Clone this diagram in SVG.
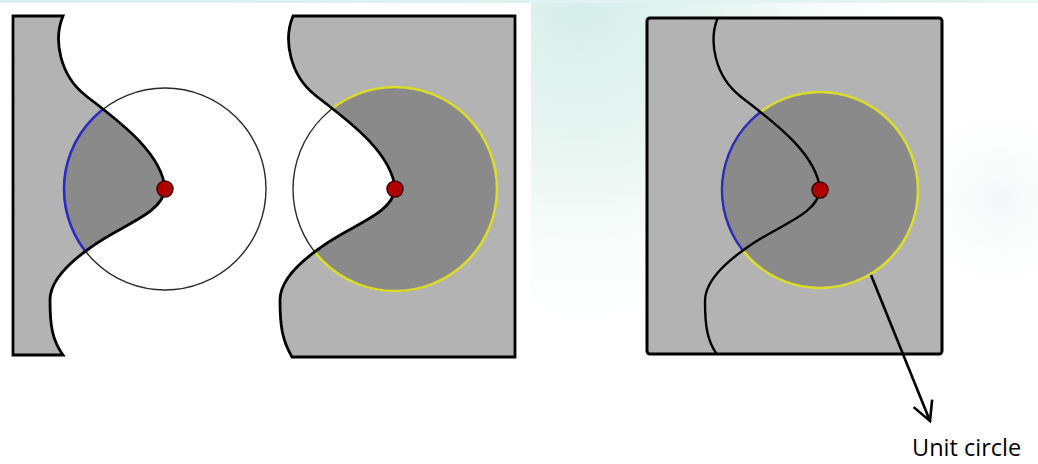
<svg xmlns="http://www.w3.org/2000/svg" width="1038" height="464" viewBox="0 0 1038 464">
<style>
.panel{fill:#b3b3b3}
.outline{fill:none;stroke:#000;stroke-width:2.8;stroke-linejoin:miter}
.curve{fill:none;stroke:#000;stroke-width:2.4}
.disc{fill:#8a8a8a}
.thin{fill:none;stroke:#2a2a2a;stroke-width:1.4}
.blue{fill:none;stroke:#2c2cc4;stroke-width:2.6}
.yellow{fill:none;stroke:#dcdc2a;stroke-width:2.6}
.dot{fill:#b00000;stroke:#3a0000;stroke-width:1.5}
.conn{fill:none;stroke:#000;stroke-width:2.6}
.label{font-family:"Open Sans","Liberation Sans",sans-serif;font-size:23.5px;fill:#000}
</style>
<defs>
<radialGradient id="bgA" cx="580" cy="0" r="360" gradientUnits="userSpaceOnUse">
<stop offset="0" stop-color="#d6eeea"/>
<stop offset="0.45" stop-color="#eaf6f2"/>
<stop offset="1" stop-color="#ffffff" stop-opacity="0"/>
</radialGradient>
<radialGradient id="bgB" cx="1000" cy="200" r="110" gradientUnits="userSpaceOnUse">
<stop offset="0" stop-color="#f3f7f7"/>
<stop offset="1" stop-color="#ffffff" stop-opacity="0"/>
</radialGradient>
<linearGradient id="strip" x1="0" y1="0" x2="1" y2="0">
<stop offset="0" stop-color="#d8f0f2"/>
<stop offset="1" stop-color="#e6f4f2"/>
</linearGradient>
<marker id="openArrow" markerUnits="userSpaceOnUse" markerWidth="30" markerHeight="30" viewBox="-24 -15 30 30" refX="0" refY="0" orient="auto">
<path d="M-19,-10 L0,0 L-19,10" fill="none" stroke="#000" stroke-width="2.6" stroke-linejoin="miter"/>
</marker>
<clipPath id="clip1">
<path d="M13,16 L63,16 C53,40 60,75 85,95 C110,115 162,150 165,189 C162,215 120,225 90,248 C70,262 50,280 50,300 C50,325 52,340 63,355 L13,355 Z"/>
</clipPath>
<clipPath id="clip2">
<path d="M293,16 C283,40 290,75 315,95 C340,115 392,150 395,189 C392,215 350,225 320,248 C300,262 280,280 280,300 C280,325 282,340 292,357 L515,357 L515,16 Z"/>
</clipPath>
<clipPath id="clip3left">
<path transform="translate(655,1)" d="M-100,-20 L63,-20 L63,16 C53,40 60,75 85,95 C110,115 162,150 165,189 C162,215 120,225 90,248 C70,262 50,280 50,300 C50,325 52,340 63,355 L63,400 L-100,400 Z"/>
</clipPath>
<clipPath id="clip3rect">
<rect x="647" y="18" width="295" height="336"/>
</clipPath>
</defs>

<g id="background">
<rect x="0" y="0" width="1038" height="464" fill="#ffffff"/>
<rect x="531" y="0" width="507" height="330" fill="url(#bgA)"/>
<rect x="880" y="90" width="158" height="220" fill="url(#bgB)"/>
<rect x="0" y="0" width="1038" height="3" fill="url(#strip)"/>
<rect x="0" y="3" width="531" height="380" fill="#ffffff"/>
</g>

<g id="panel-left">
<path class="panel" d="M13,16 L63,16 C53,40 60,75 85,95 C110,115 162,150 165,189 C162,215 120,225 90,248 C70,262 50,280 50,300 C50,325 52,340 63,355 L13,355 Z"/>
<circle class="disc" cx="165" cy="189" r="101" clip-path="url(#clip1)"/>
<circle class="thin" cx="165" cy="189" r="101"/>
<circle class="blue" cx="165" cy="189" r="101" clip-path="url(#clip1)"/>
<path class="outline" d="M13,16 L63,16 C53,40 60,75 85,95 C110,115 162,150 165,189 C162,215 120,225 90,248 C70,262 50,280 50,300 C50,325 52,340 63,355 L13,355 Z"/>
<circle class="dot" cx="165" cy="189" r="8"/>
</g>

<g id="panel-middle">
<path class="panel" d="M293,16 C283,40 290,75 315,95 C340,115 392,150 395,189 C392,215 350,225 320,248 C300,262 280,280 280,300 C280,325 282,340 292,357 L515,357 L515,16 Z"/>
<circle class="disc" cx="395" cy="189" r="102" clip-path="url(#clip2)"/>
<circle class="thin" cx="395" cy="189" r="102"/>
<circle class="yellow" cx="395" cy="189" r="102" clip-path="url(#clip2)"/>
<path class="outline" d="M293,16 C283,40 290,75 315,95 C340,115 392,150 395,189 C392,215 350,225 320,248 C300,262 280,280 280,300 C280,325 282,340 292,357 L515,357 L515,16 Z"/>
<circle class="dot" cx="395" cy="189" r="8"/>
</g>

<g id="panel-right">
<rect class="panel" x="647" y="18" width="295" height="336" rx="3"/>
<circle class="disc" cx="820" cy="190" r="98"/>
<circle class="yellow" cx="820" cy="190" r="98"/>
<circle class="blue" cx="820" cy="190" r="98" clip-path="url(#clip3left)"/>
<g clip-path="url(#clip3rect)">
<path class="curve" transform="translate(655,1)" d="M63,10 L63,16 C53,40 60,75 85,95 C110,115 162,150 165,189 C162,215 120,225 90,248 C70,262 50,280 50,300 C50,325 52,340 63,355 L65,362"/>
</g>
<rect x="647" y="18" width="295" height="336" rx="3" fill="none" stroke="#000" stroke-width="3"/>
<circle class="dot" cx="820" cy="190" r="8"/>
</g>

<g id="connectors">
<line class="conn" x1="871" y1="275" x2="930" y2="421" marker-end="url(#openArrow)"/>
</g>

<g id="label-unit-circle">
<text class="label" x="912" y="456">Unit circle</text>
</g>
</svg>
